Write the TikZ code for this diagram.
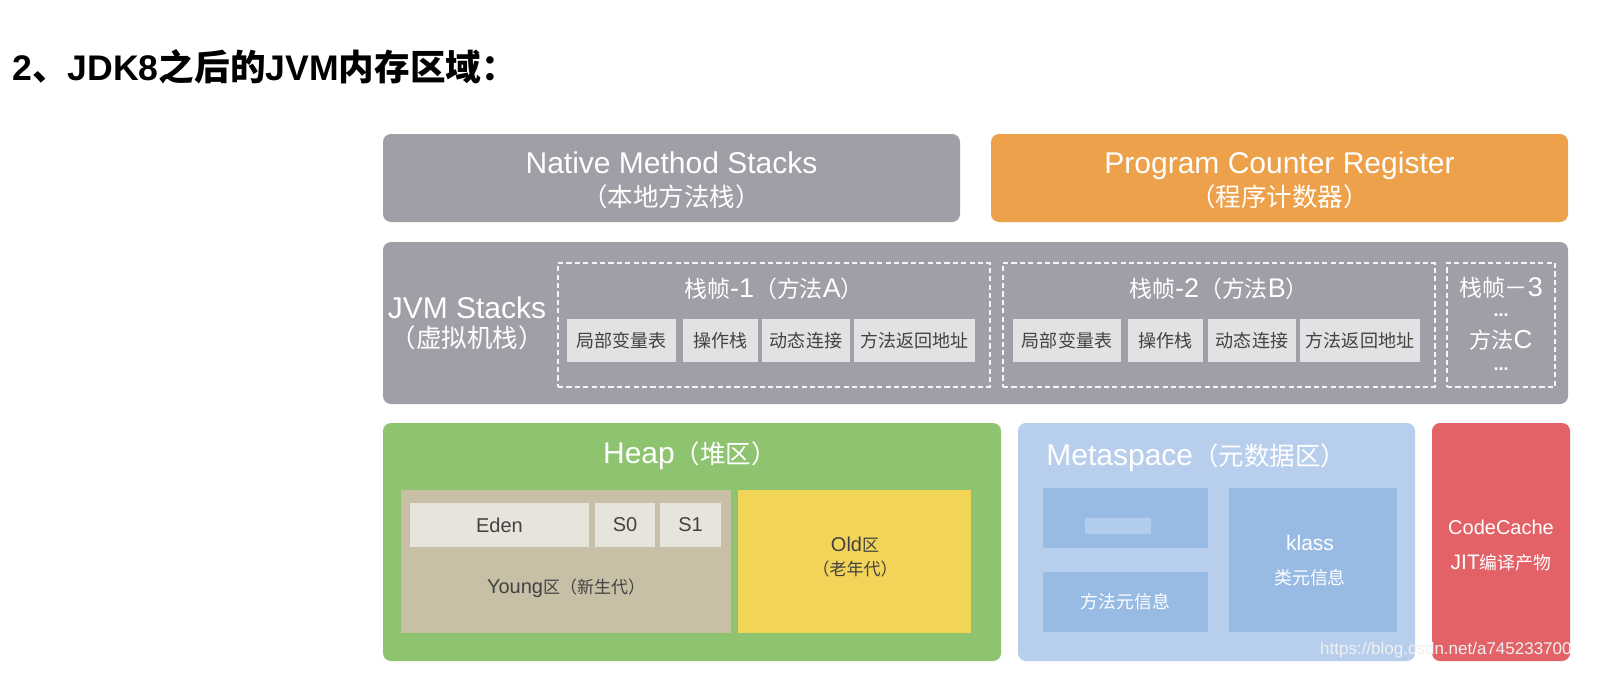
\documentclass[tikz,border=0pt]{standalone}
\usepackage{fontspec}
\setmainfont{Liberation Sans}
\newfontfamily\cjk{Noto Sans CJK SC}[Scale=0.85]
\newfontfamily\cjkbig{Noto Sans CJK SC}
\newcommand{\zh}[1]{{\cjk #1}}
\usepackage{tikz}
\usetikzlibrary{positioning, fit, backgrounds}
\definecolor{jvmgray}{RGB}{160, 159, 167}
\definecolor{pcorange}{RGB}{237, 161, 74}
\definecolor{slotgray}{RGB}{226, 226, 229}
\definecolor{heapgreen}{RGB}{142, 196, 112}
\definecolor{younggray}{RGB}{199, 191, 166}
\definecolor{edengray}{RGB}{231, 228, 219}
\definecolor{oldyellow}{RGB}{241, 212, 88}
\definecolor{metablue}{RGB}{183, 206, 236}
\definecolor{metainner}{RGB}{152, 187, 228}
\definecolor{blurblue}{RGB}{178, 204, 237}
\definecolor{cachered}{RGB}{226, 98, 104}
\definecolor{darktext}{RGB}{66, 66, 66}

\begin{document}
\begin{tikzpicture}[
  x=0.5pt, y=-0.5pt,
  area/.style={rectangle, rounded corners=4pt, inner sep=0pt},
  framebox/.style={
    rectangle, inner sep=0pt, draw=white!90!jvmgray,
    line width=0.9pt, dash pattern=on 2.6pt off 1.6pt
  },
  slot/.style={rectangle, inner sep=0pt, fill=slotgray},
  slottxt/.style={text=darktext, inner sep=0pt, font=\cjk\fontsize{10.6}{12}\selectfont},
  zone/.style={rectangle, inner sep=0pt},
  zonetxt/.style={text=darktext, align=center, inner sep=0pt, font=\fontsize{10}{12}\selectfont},
  metabox/.style={rectangle, inner sep=0pt, fill=metainner},
  txt/.style={text=white, align=center, inner sep=0pt, font=\fontsize{15}{16.5}\selectfont},
  frametxt/.style={text=white, align=center, inner sep=0pt, font=\fontsize{13.5}{14}\selectfont},
  smalltxt/.style={text=white, align=center, inner sep=0pt, font=\fontsize{10.5}{12}\selectfont}
]
  \useasboundingbox (0,0) rectangle (1600,686);
  \fill[white] (0,0) rectangle (1600,686);

  % Title
  \node[anchor=west, inner sep=0pt, font=\fontsize{17.8}{20}\selectfont\bfseries] (title) at (12,67)
    {2{\cjkbig 、}JDK8{\cjkbig 之后的}JVM{\cjkbig 内存区域：}};

  % Top row
  \node[area, fill=jvmgray, fit={(383,134) (960,222)}] (native) {};
  \node[txt] (nativelbl) at ([yshift=-1pt]native.center) {Native Method Stacks\\\zh{（本地方法栈）}};
  \node[area, fill=pcorange, fit={(991,134) (1568,222)}] (pc) {};
  \node[txt] (pclbl) at ([yshift=-1pt]pc.center) {Program Counter Register\\\zh{（程序计数器）}};

  % JVM stacks
  \node[area, fill=jvmgray, fit={(383,242) (1568,404)}] (jvm) {};
  \node[txt, font=\fontsize{15}{14.5}\selectfont] (jvmlbl) at (467,323) {JVM Stacks\\\zh{（虚拟机栈）}};

  % Frame 1
  \node[framebox, fit={(558,263) (990,387)}] (frame1) {};
  \node[frametxt] (f1title) at (774,289) {\zh{栈帧}-1\zh{（方法}A\zh{）}};
  \node[slot, fit={(567,319) (676,362)}] (lv1) {};
  \node[slot, fit={(683,319) (758,362)}] (os1) {};
  \node[slot, fit={(762,319) (850,362)}] (dl1) {};
  \node[slot, fit={(854,319) (975,362)}] (ra1) {};
  \node[slottxt] (lv1lbl) at (lv1.center) {局部变量表};
  \node[slottxt] (os1lbl) at (os1.center) {操作栈};
  \node[slottxt] (dl1lbl) at (dl1.center) {动态连接};
  \node[slottxt] (ra1lbl) at (ra1.center) {方法返回地址};

  % Frame 2
  \node[framebox, fit={(1003,263) (1435,387)}] (frame2) {};
  \node[frametxt] (f2title) at (1219,289) {\zh{栈帧}-2\zh{（方法}B\zh{）}};
  \node[slot, fit={(1013,319) (1121,362)}] (lv2) {};
  \node[slot, fit={(1128,319) (1203,362)}] (os2) {};
  \node[slot, fit={(1208,319) (1296,362)}] (dl2) {};
  \node[slot, fit={(1300,319) (1420,362)}] (ra2) {};
  \node[slottxt] (lv2lbl) at (lv2.center) {局部变量表};
  \node[slottxt] (os2lbl) at (os2.center) {操作栈};
  \node[slottxt] (dl2lbl) at (dl2.center) {动态连接};
  \node[slottxt] (ra2lbl) at (ra2.center) {方法返回地址};

  % Frame 3
  \node[framebox, fit={(1447,263) (1555,387)}] (frame3) {};
  \node[frametxt] (f3title) at (1501,288) {\zh{栈帧－}3};
  \node[smalltxt, font=\fontsize{9}{10}\selectfont\bfseries] (f3dots1) at (1501,315) {...};
  \node[frametxt, font=\fontsize{13}{14}\selectfont] (f3meth) at (1501,340) {\zh{方法}C};
  \node[smalltxt, font=\fontsize{9}{10}\selectfont\bfseries] (f3dots2) at (1501,369) {...};

  % Heap
  \node[area, fill=heapgreen, fit={(383,423) (1001,661)}] (heap) {};
  \node[txt] (heaplbl) at (690,456) {Heap\zh{（堆区）}};
  \node[zone, fill=younggray, fit={(401,490) (731,633)}] (young) {};
  \node[zone, fill=edengray, fit={(410,503) (589,547)}] (eden) {};
  \node[zone, fill=edengray, fit={(595,503) (655,547)}] (s0) {};
  \node[zone, fill=edengray, fit={(660,503) (721,547)}] (s1) {};
  \node[zonetxt] (edenlbl) at (eden.center) {Eden};
  \node[zonetxt] (s0lbl) at (s0.center) {S0};
  \node[zonetxt] (s1lbl) at (s1.center) {S1};
  \node[zonetxt] (younglbl) at (566,588) {Young\zh{区（新生代）}};
  \node[zone, fill=oldyellow, fit={(738,490) (971,633)}] (old) {};
  \node[zonetxt] (oldlbl) at (855,557) {Old\zh{区}\\\zh{（老年代）}};

  % Metaspace
  \node[area, fill=metablue, fit={(1018,423) (1415,661)}] (meta) {};
  \node[txt, anchor=west] (metalbl) at (1046,458) {Metaspace\zh{（元数据区）}};
  \node[metabox, fit={(1043,488) (1208,548)}] (metatop) {};
  \node[zone, fill=blurblue, fit={(1085,518) (1151,534)}] (blur) {};
  \node[metabox, fit={(1043,572) (1208,632)}] (methodmeta) {};
  \node[smalltxt] (methodlbl) at (methodmeta.center) {\zh{方法元信息}};
  \node[metabox, fit={(1229,488) (1397,632)}] (klass) {};
  \node[smalltxt] (klasslbl) at (1310,543) {klass};
  \node[smalltxt] (klasszh) at (1310,578) {\zh{类元信息}};

  % Code cache
  \node[area, fill=cachered, fit={(1432,423) (1570,661)}] (cache) {};
  \node[smalltxt, font=\fontsize{10}{12}\selectfont] (cachelbl) at (1501,527) {CodeCache};
  \node[smalltxt, font=\fontsize{10.5}{12}\selectfont] (jitlbl) at (1501,563) {JIT\zh{编译产物}};

  % Watermark
  \node[anchor=east, inner sep=0pt, text=white!88!gray, font=\fontsize{8.5}{10}\selectfont] (mark)
    at (1572,650) {https://blog.csdn.net/a745233700};
\end{tikzpicture}
\end{document}
